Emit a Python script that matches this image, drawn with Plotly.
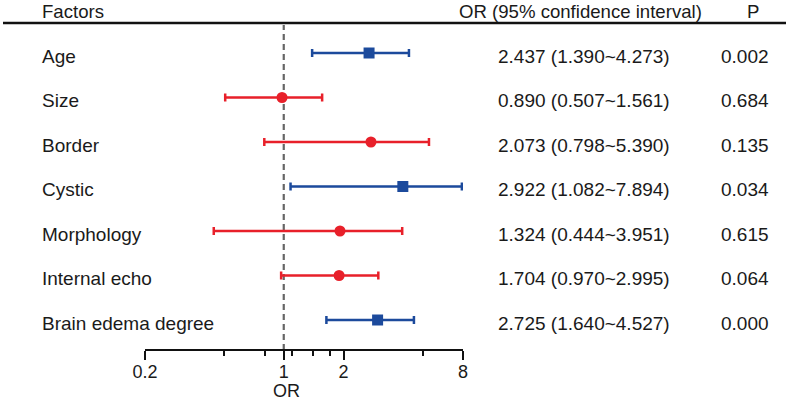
import plotly.graph_objects as go

factors = ["Age", "Size", "Border", "Cystic", "Morphology", "Internal echo", "Brain edema degree"]
or_text = ["2.437 (1.390~4.273)", "0.890 (0.507~1.561)", "2.073 (0.798~5.390)",
           "2.922 (1.082~7.894)", "1.324 (0.444~3.951)", "1.704 (0.970~2.995)",
           "2.725 (1.640~4.527)"]
p_text = ["0.002", "0.684", "0.135", "0.034", "0.615", "0.064", "0.000"]
ci_low = [1.390, 0.507, 0.798, 1.082, 0.444, 0.970, 1.640]
ci_high = [4.273, 1.561, 5.390, 7.894, 3.951, 2.995, 4.527]
# point estimates as drawn in the figure
or_drawn = [2.69, 0.98, 2.75, 3.98, 1.92, 1.90, 2.97]
significant = [True, False, False, True, False, False, True]

major_ticks = [0.2, 1, 2, 8]
minor_ticks = [0.5, 0.8, 1.1, 1.4, 1.7, 5]

BLUE = "#1c4a9c"
RED = "#e8202a"
FONT = "Liberation Sans, Arial, sans-serif"
TXT = "#1a1a1a"

W, H = 786, 400
L, R, T, B = 145, 463, 25, 350


def px_x(px):
    return (px - L) / (R - L)


def px_y(py):
    return (B - py) / (B - T)


n = len(factors)
ypos = [n - i for i in range(n)]

fig = go.Figure()
for sig in (True, False):
    idx = [i for i in range(n) if significant[i] == sig]
    color = BLUE if sig else RED
    fig.add_trace(go.Scatter(
        x=[or_drawn[i] for i in idx],
        y=[ypos[i] for i in idx],
        mode="markers",
        marker=dict(symbol="square" if sig else "circle", size=11,
                    color=color, line=dict(width=0)),
        error_x=dict(type="data", symmetric=False,
                     array=[ci_high[i] - or_drawn[i] for i in idx],
                     arrayminus=[or_drawn[i] - ci_low[i] for i in idx],
                     color=color, thickness=2.5, width=4),
        showlegend=False, hoverinfo="skip",
    ))

shapes = [
    dict(type="line", xref="x", yref="paper", x0=1, x1=1, y0=0, y1=1,
         line=dict(color="#666666", width=2.2, dash="6px,4px"), layer="below"),
    dict(type="line", xref="paper", yref="paper", x0=px_x(3), x1=px_x(786),
         y0=px_y(23), y1=px_y(23), line=dict(color="#111", width=2.5)),
    dict(type="line", xref="x", yref="paper", x0=major_ticks[0], x1=major_ticks[-1],
         y0=0, y1=0, line=dict(color="#111", width=2)),
]

ann = []
for i in range(n):
    for txt, x in ((factors[i], 40), (or_text[i], 496), (p_text[i], 719)):
        ann.append(dict(x=px_x(x), y=ypos[i], xref="paper", yref="y", text=txt,
                        showarrow=False, xanchor="left", yanchor="middle",
                        font=dict(size=19, family=FONT, color=TXT), yshift=-3))

for txt, x in (("Factors", 40), ("OR (95% confidence interval)", 457), ("P", 745)):
    ann.append(dict(x=px_x(x), y=px_y(11), xref="paper", yref="paper", text=txt,
                    showarrow=False, xanchor="left", yanchor="middle",
                    font=dict(size=18.6, family=FONT, color=TXT)))
ann.append(dict(x=0, y=px_y(391), xref="x", yref="paper", text="OR",
                showarrow=False, xanchor="center", yanchor="middle",
                font=dict(size=18, family=FONT, color=TXT), xshift=3))

fig.update_layout(
    width=W, height=H,
    margin=dict(l=L, r=W - R, t=T, b=H - B, pad=0),
    plot_bgcolor="white", paper_bgcolor="white",
    shapes=shapes, annotations=ann,
    xaxis=dict(type="log", range=[-0.699, 0.903], tickvals=major_ticks,
               ticktext=[str(v) for v in major_ticks],
               ticks="outside", ticklen=9, tickwidth=2, tickcolor="#111",
               ticklabelstandoff=-4,
               showline=False, showgrid=False, zeroline=False,
               tickfont=dict(size=18, family=FONT, color=TXT),
               minor=dict(tickvals=minor_ticks, ticks="outside", ticklen=5,
                          tickwidth=2, tickcolor="#111", showgrid=False)),
    yaxis=dict(range=[ypos[-1] - 30 / 44.5, ypos[0] + 28 / 44.5], visible=False,
               showgrid=False, zeroline=False),
)

fig.write_html("out.html", config={"displayModeBar": False},
               post_script="document.body.style.margin='0px';")
